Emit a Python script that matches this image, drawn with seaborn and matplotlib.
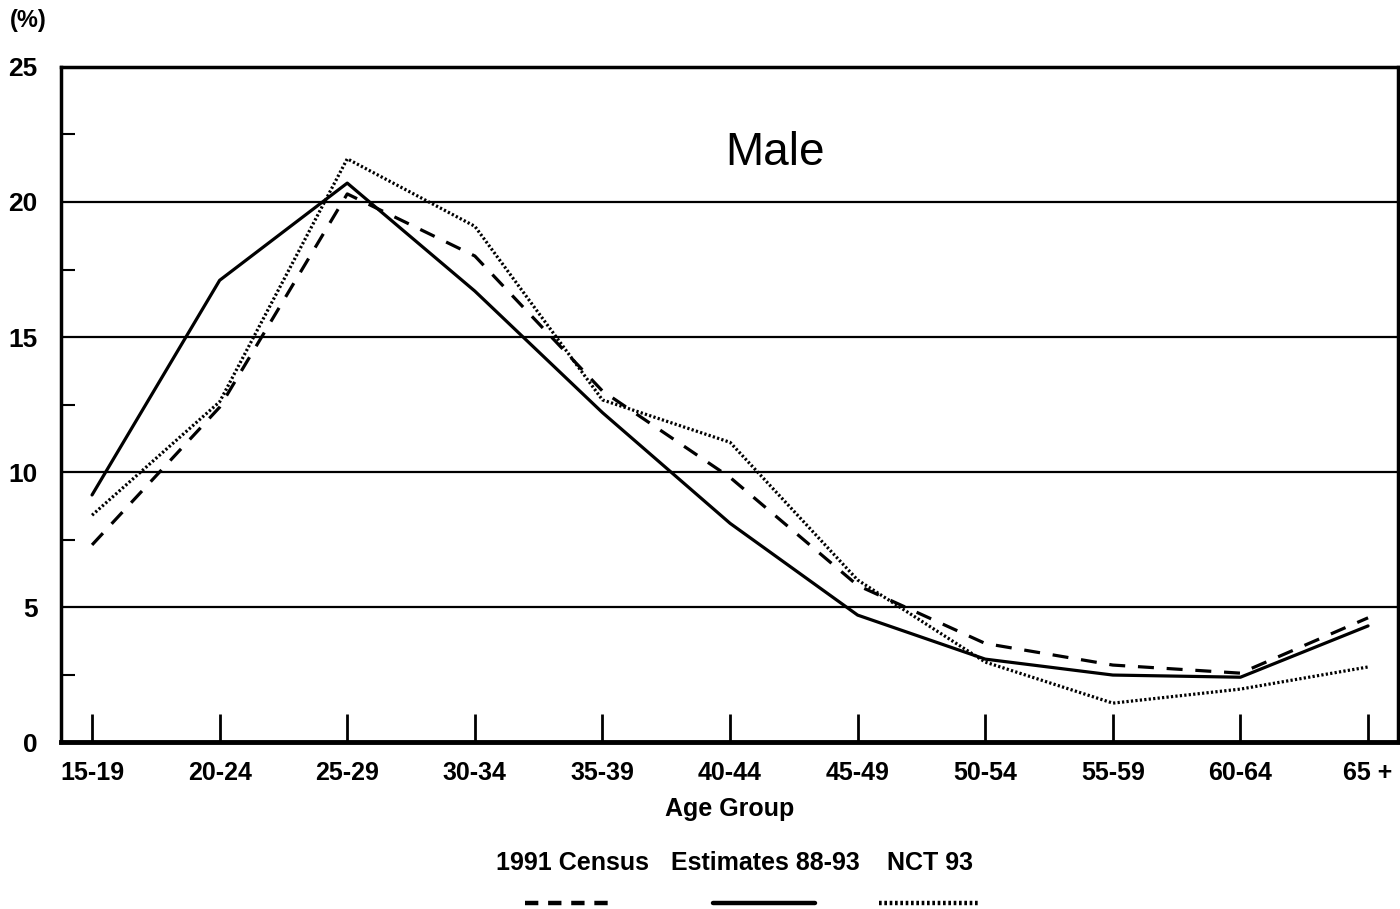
import matplotlib
matplotlib.use("Agg")
import matplotlib.pyplot as plt
import seaborn as sns
import pandas as pd
from matplotlib.lines import Line2D
from matplotlib.ticker import MultipleLocator

age_groups = ["15-19", "20-24", "25-29", "30-34", "35-39", "40-44",
              "45-49", "50-54", "55-59", "60-64", "65 +"]
census_91 = [7.3, 12.4, 20.3, 18.0, 13.0, 9.8, 5.8, 3.65, 2.85, 2.55, 4.6]
estimates = [9.15, 17.1, 20.7, 16.7, 12.2, 8.1, 4.7, 3.07, 2.48, 2.4, 4.3]
nct_93 = [8.4, 12.6, 21.6, 19.1, 12.67, 11.1, 6.0, 2.96, 1.44, 1.96, 2.78]
series_names = ["1991 Census", "Estimates 88-93", "NCT 93"]

sns.set_style("white", {"xtick.bottom": True, "ytick.left": True,
                        "text.color": "black", "xtick.color": "black",
                        "ytick.color": "black", "axes.labelcolor": "black"})
plt.rcParams['font.family'] = ['Liberation Sans', 'DejaVu Sans']

rows = []
for name, vals in zip(series_names, [census_91, estimates, nct_93]):
    for i, v in enumerate(vals):
        rows.append({"pos": i, "value": v, "series": name})
df = pd.DataFrame(rows)

styles = {
    "1991 Census": dict(ls=(0, (5, 4)), lw=2.3),
    "Estimates 88-93": dict(ls="-", lw=2.3),
    "NCT 93": dict(ls=(0, (0.7, 0.7)), lw=2.3),
}

fig = plt.figure(figsize=(14, 9.09), dpi=100)
ax = fig.add_axes([0.0436, 0.1837, 0.955, 0.7426])

for name in series_names:
    sub = df[df["series"] == name]
    sns.lineplot(data=sub, x="pos", y="value", ax=ax, color="black",
                 linestyle=styles[name]["ls"], linewidth=styles[name]["lw"],
                 legend=False)

# horizontal gridlines
for yv in [5, 10, 15, 20]:
    ax.axhline(yv, color="black", lw=1.6, zorder=0)

ax.set_xlim(-0.243, 10.235)
ax.set_ylim(0, 25)
ax.set_xticks(range(len(age_groups)))
ax.set_xticklabels(age_groups, fontsize=18, fontweight="bold")
ax.set_yticks([0, 5, 10, 15, 20, 25])
ax.set_yticklabels(["0", "5", "10", "15", "20", "25"], fontsize=19,
                   fontweight="bold")
ax.yaxis.set_minor_locator(MultipleLocator(2.5))
ax.tick_params(axis="x", direction="in", length=20, width=2, pad=14,
               bottom=True, top=False, colors="black")
ax.tick_params(axis="y", which="major", length=0, pad=17, colors="black")
ax.tick_params(axis="y", which="minor", direction="in", length=10, width=1.5,
               left=True, colors="black")
ax.set_xlabel("Age Group", fontsize=18, fontweight="bold", labelpad=8,
              color="black")
ax.set_ylabel("")

for side in ["top", "left", "right"]:
    ax.spines[side].set_linewidth(2.5)
    ax.spines[side].set_color("black")
ax.spines["bottom"].set_linewidth(3.5)
ax.spines["bottom"].set_color("black")

ax.text(5.35, 21.8, "Male", fontsize=33, ha="center", va="center",
        color="black")
fig.text(0.007, 0.977, "(%)", fontsize=17, fontweight="bold",
         ha="left", va="center", color="black")

# legend: labels above line samples
label_x = [0.409, 0.547, 0.664]
sample_x = [(0.375, 0.44), (0.509, 0.582), (0.628, 0.699)]
legend_ls = {"1991 Census": (0, (3, 2.2)), "Estimates 88-93": "-",
             "NCT 93": (0, (0.6, 0.6))}
for name, lx, (x0, x1) in zip(series_names, label_x, sample_x):
    fig.text(lx, 0.051, name, fontsize=18, fontweight="bold",
             ha="center", va="center", color="black")
    fig.add_artist(Line2D([x0, x1], [0.007, 0.007], color="black",
                          linestyle=legend_ls[name], linewidth=3.2,
                          transform=fig.transFigure))

fig.savefig("out.png", dpi=100)
